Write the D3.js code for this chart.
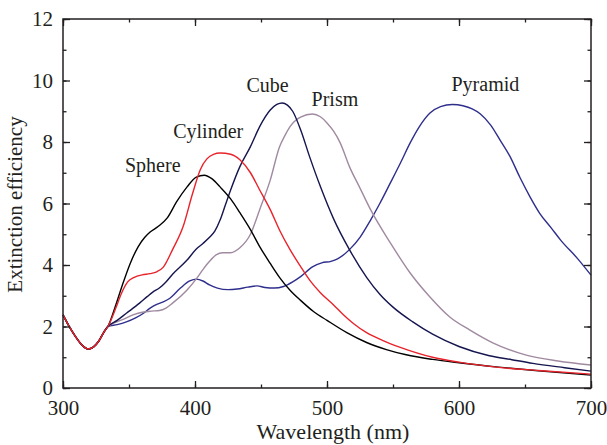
<!DOCTYPE html>
<html>
<head>
<meta charset="utf-8">
<script src="https://cdn.jsdelivr.net/npm/d3@7"></script>
<style>
  html, body { margin: 0; padding: 0; background: #fff; }
  svg { display: block; }
  text { font-family: "Liberation Serif", "DejaVu Serif", serif; fill: #231f20; }
</style>
</head>
<body>
<svg id="chart" width="607" height="445"></svg>
<script>
// ---- Data ----
const xTicks = [300, 400, 500, 600, 700];
const yTicks = [0, 2, 4, 6, 8, 10, 12];
const seriesNames = ["Sphere", "Cylinder", "Cube", "Prism", "Pyramid"];
const seriesColors = ["#000000", "#e8232b", "#15154f", "#a08aa0", "#2e2e8c"];

const commonStart = [[300,2.38],[305,1.98],[310,1.64],[315,1.37],[319,1.27],[323,1.33],[327,1.52],[331,1.82],[334,2.0]];

const sphere = [[340,2.7],[345,3.35],[351,4.06],[357,4.6],[362,4.9],[366,5.07],[372,5.25],[379,5.53],[386,6.05],[394,6.54],[401,6.86],[407,6.92],[413,6.8],[419,6.54],[427,6.15],[434,5.7],[442,5.15],[449,4.6],[457,4.05],[464,3.6],[472,3.18],[480,2.85],[490,2.48],[500,2.2],[515,1.8],[530,1.48],[545,1.25],[560,1.08],[580,0.93],[600,0.82],[630,0.68],[660,0.56],[700,0.42]];

const cylinder = [[340,2.6],[344,3.05],[349,3.45],[354,3.6],[360,3.68],[366,3.72],[371,3.78],[376,3.93],[383,4.5],[391,5.25],[398,6.3],[404,7.1],[409,7.45],[414,7.6],[419,7.64],[427,7.6],[434,7.42],[442,7.0],[449,6.44],[457,5.8],[464,5.14],[472,4.5],[480,3.95],[487,3.5],[495,3.1],[505,2.7],[512,2.4],[520,2.1],[530,1.8],[542,1.55],[555,1.33],[580,1.0],[600,0.84],[630,0.67],[660,0.57],[700,0.45]];

const cube = [[341,2.2],[348,2.43],[358,2.76],[364,2.98],[368,3.12],[373,3.25],[378,3.45],[383,3.7],[394,4.16],[401,4.52],[406,4.7],[411,4.9],[415,5.1],[419,5.46],[423,5.95],[427,6.44],[434,7.2],[442,7.85],[449,8.5],[457,9.04],[462,9.22],[466,9.27],[470,9.2],[474,9.0],[480,8.4],[487,7.5],[495,6.55],[505,5.5],[517,4.5],[530,3.6],[540,3.05],[550,2.63],[565,2.15],[580,1.75],[600,1.35],[623,1.05],[640,0.92],[656,0.8],[680,0.66],[700,0.55]];

const prism = [[345,2.22],[353,2.38],[361,2.47],[367,2.5],[373,2.52],[378,2.6],[383,2.76],[394,3.19],[401,3.55],[406,3.85],[411,4.12],[416,4.33],[421,4.4],[427,4.4],[434,4.56],[442,5.0],[449,5.8],[457,6.76],[464,7.84],[468,8.2],[472,8.5],[480,8.81],[489,8.91],[495,8.82],[500,8.62],[505,8.35],[510,7.97],[517,7.2],[525,6.5],[533,5.8],[548,4.72],[563,3.74],[578,2.96],[593,2.31],[608,1.89],[626,1.46],[651,1.07],[675,0.88],[700,0.75]];

const pyramid = [[341,2.06],[348,2.15],[355,2.28],[361,2.43],[366,2.6],[371,2.72],[376,2.8],[381,2.92],[389,3.25],[396,3.48],[401,3.54],[406,3.48],[411,3.35],[417,3.25],[425,3.2],[432,3.22],[440,3.28],[447,3.32],[453,3.27],[460,3.25],[467,3.3],[474,3.45],[480,3.62],[489,3.94],[496,4.07],[503,4.12],[508,4.2],[517,4.5],[525,4.9],[533,5.46],[540,6.0],[548,6.67],[556,7.35],[563,7.97],[570,8.5],[578,8.94],[586,9.15],[595,9.22],[603,9.18],[610,9.08],[616,8.92],[624,8.55],[631,8.07],[639,7.5],[646,6.86],[654,6.2],[661,5.69],[670,5.2],[677,4.81],[690,4.2],[700,3.67]];

// label anchor points in data units [x, y]
const labelPos = [[368,7.02],[410,8.13],[455,9.63],[506,9.17],[620,9.66]];

// ---- Layout ----
const svg = d3.select("#chart");
const mLeft = 63, mRight = 591, mTop = 19, mBottom = 388;
const x = d3.scaleLinear().domain([300, 700]).range([mLeft, mRight]);
const y = d3.scaleLinear().domain([0, 12]).range([mBottom, mTop]);

const axisColor = "#231f20";

// lines
const line = d3.line().x(d => x(d[0])).y(d => y(d[1])).curve(d3.curveMonotoneX);
const allSeries = [sphere, cylinder, cube, prism, pyramid];
const order = [4, 3, 2, 0, 1];
order.forEach(i => {
  svg.append("path")
    .datum(commonStart.concat(allSeries[i]))
    .attr("d", line)
    .attr("fill", "none")
    .attr("stroke", seriesColors[i])
    .attr("stroke-width", 1.4);
});

// axes with inward ticks
function addAxis(axisGen, tx, ty) {
  const g = svg.append("g").attr("transform", `translate(${tx},${ty})`).call(axisGen);
  g.select(".domain").remove();
  g.selectAll(".tick line").attr("stroke", axisColor).attr("stroke-width", 1.3);
  return g;
}
const xMinor = d3.range(300, 701, 50);
const yMinor = d3.range(0, 12.01, 1);

// bottom
addAxis(d3.axisBottom(x).tickValues(xMinor).tickSize(-3.5).tickFormat(""), 0, mBottom);
const gxb = addAxis(d3.axisBottom(x).tickValues(xTicks).tickSize(-7).tickPadding(12).tickFormat(d3.format("d")), 0, mBottom);
gxb.selectAll("text").attr("font-size", 21).attr("fill", axisColor).attr("font-family", "Liberation Serif, serif");
// top
addAxis(d3.axisTop(x).tickValues(xMinor).tickSize(-3.5).tickFormat(""), 0, mTop);
addAxis(d3.axisTop(x).tickValues(xTicks).tickSize(-7).tickFormat(""), 0, mTop);
// left
addAxis(d3.axisLeft(y).tickValues(yMinor).tickSize(-3.5).tickFormat(""), mLeft, 0);
const gyl = addAxis(d3.axisLeft(y).tickValues(yTicks).tickSize(-7).tickPadding(10).tickFormat(d3.format("d")), mLeft, 0);
gyl.selectAll("text").attr("font-size", 21).attr("fill", axisColor).attr("font-family", "Liberation Serif, serif");
// right
addAxis(d3.axisRight(y).tickValues(yMinor).tickSize(-3.5).tickFormat(""), mRight, 0);
addAxis(d3.axisRight(y).tickValues(yTicks).tickSize(-7).tickFormat(""), mRight, 0);

// frame
svg.append("rect")
  .attr("x", mLeft).attr("y", mTop)
  .attr("width", mRight - mLeft).attr("height", mBottom - mTop)
  .attr("fill", "none").attr("stroke", axisColor).attr("stroke-width", 1.5);

// axis titles
svg.append("text")
  .attr("x", 333).attr("y", 439)
  .attr("text-anchor", "middle").attr("font-size", 22)
  .text("Wavelength (nm)");
svg.append("text")
  .attr("transform", `translate(22,${(mTop + mBottom) / 2 + 1}) rotate(-90)`)
  .attr("text-anchor", "middle").attr("font-size", 21)
  .text("Extinction efficiency");

// series labels
seriesNames.forEach((name, i) => {
  svg.append("text")
    .attr("x", x(labelPos[i][0])).attr("y", y(labelPos[i][1]))
    .attr("text-anchor", "middle").attr("font-size", 20)
    .text(name);
});
</script>
</body>
</html>
